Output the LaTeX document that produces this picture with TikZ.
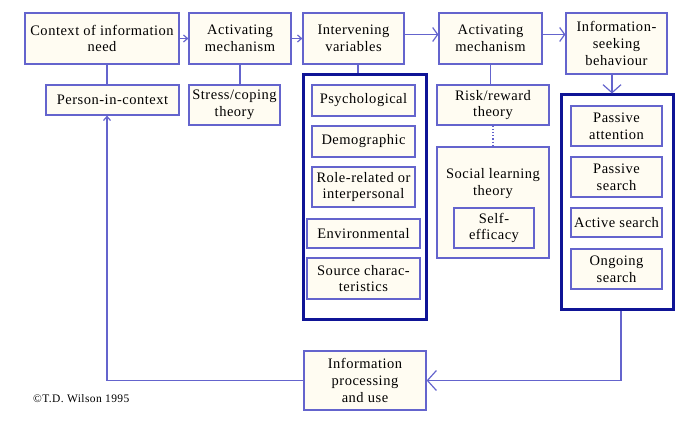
\documentclass[tikz,border=0pt]{standalone}
\usepackage{fontspec}
\setmainfont{Liberation Serif}[LetterSpace=3.5]
\usetikzlibrary{arrows.meta,calc}
\definecolor{boxline}{RGB}{100,100,205}
\definecolor{boxfill}{RGB}{255,252,242}
\definecolor{grpline}{RGB}{15,20,150}
\tikzset{every picture/.style={/utils/exec={\rmfamily\fontsize{14.5}{16.7}\selectfont}}}
\tikzset{box/.style={draw=boxline,fill=boxfill,line width=1.2pt,align=center,inner sep=0pt}}
\tikzset{grp/.style={draw=grpline,fill=white,line width=3pt,inner sep=0pt}}
\tikzset{link/.style={draw=boxline,line width=1.2pt}}
\tikzset{arr/.style={link,-{Straight Barb[length=4pt,width=7pt]}}}
\tikzset{bigarr/.style={link,-{Straight Barb[length=8pt,width=18pt]}}}

\begin{document}
\begin{tikzpicture}[x=1pt,y=-1pt]
    \useasboundingbox (0,0) rectangle (698,430);
    % top row
    \node [box,minimum width=154,minimum height=51] (ctx) at (102,38.5) {Context of information\\need};
    \node [box,minimum width=102,minimum height=51] (act1) at (240,38.5) {Activating\\mechanism};
    \node [box,minimum width=101,minimum height=51] (intv) at (353.5,38.5) {Intervening\\variables};
    \node [box,minimum width=103,minimum height=51] (act2) at (490.5,38.5) {Activating\\mechanism};
    \node [box,minimum width=101,minimum height=61] (seek) at (616.5,43.5) {Information-\\seeking\\behaviour};
    % second row
    \node [box,minimum width=133,minimum height=30] (pic) at (112.5,100) {Person-in-context};
    \node [box,minimum width=91,minimum height=40] (stress) at (234.5,105) {Stress/coping\\theory};
    \node [box,minimum width=112,minimum height=40] (risk) at (493,105) {Risk/reward\\theory};
    % intervening variables
    \node [grp,minimum width=123,minimum height=244] (vars) at (364.5,197) {};
    \node [box,minimum width=103,minimum height=31] (psy) at (363.5,100.5) {Psychological};
    \node [box,minimum width=103,minimum height=31] (demo) at (363.5,141.5) {Demographic};
    \node [box,minimum width=103,minimum height=40] (role) at (363.5,187) {Role-related or\\interpersonal};
    \node [box,minimum width=113,minimum height=29] (env) at (363.5,233.5) {Environmental};
    \node [box,minimum width=113,minimum height=41] (src) at (363.5,278.5) {Source charac-\\teristics};
    % social learning
    \node [box,minimum width=112,minimum height=111] (social) at (493,202.5) {};
    \node [align=center,inner sep=0pt] (soctxt) at (493,183.5) {Social learning\\theory};
    \node [box,minimum width=80,minimum height=40] (self) at (494,228) {Self-\\efficacy};
    % search modes
    \node [grp,minimum width=112,minimum height=214] (modes) at (617,202) {};
    \node [box,minimum width=91,minimum height=40] (pa) at (616.5,126) {Passive\\attention};
    \node [box,minimum width=91,minimum height=40] (ps) at (616.5,177) {Passive\\search};
    \node [box,minimum width=91,minimum height=29] (as) at (616.5,222.5) {Active search};
    \node [box,minimum width=91,minimum height=40] (og) at (616.5,269) {Ongoing\\search};
    % bottom
    \node [box,minimum width=122,minimum height=59] (proc) at (365,380.5) {Information\\processing\\and use};
    \node [anchor=west,inner sep=0pt,font=\rmfamily\fontsize{11.5}{13}\selectfont] (copy) at (33,399) {©T.D. Wilson 1995};
    % connectors
    \coordinate (i1) at ($(intv.east)+(0,-4)$);
    \coordinate (a2) at ($(act2.east)+(0,-4)$);
    \coordinate (c1) at ($(ctx.south)+(5,0)$);
    \coordinate (i2) at ($(intv.south)+(4.5,0)$);
    \coordinate (s1) at ($(seek.south)+(-4.5,0)$);
    \coordinate (m1) at ($(modes.south)+(4,0)$);
    \coordinate (p1) at ($(pic.south)+(-5.5,0)$);
    \draw [arr] (ctx.east) -- (act1.west);
    \draw [arr] (act1.east) -- (intv.west);
    \draw [link,-{Straight Barb[length=5pt,width=14pt]}] (i1) -- (i1 -| act2.west);
    \draw [link,-{Straight Barb[length=5pt,width=14pt]}] (a2) -- (a2 -| seek.west);
    \draw [link] (c1) -- (c1 |- pic.north);
    \draw [link] (act1.south) -- (act1.south |- stress.north);
    \draw [link] (i2) -- (i2 |- vars.north);
    \draw [link] (act2.south) -- (act2.south |- risk.north);
    \draw [link,dotted] (risk.south) -- (social.north);
    \draw [bigarr] (s1) -- (s1 |- modes.north);
    \draw [link,-{Straight Barb[length=9pt,width=20pt]}] (m1) |- (proc.east);
    \draw [arr] (proc.west) -| (p1);
\end{tikzpicture}
\end{document}
